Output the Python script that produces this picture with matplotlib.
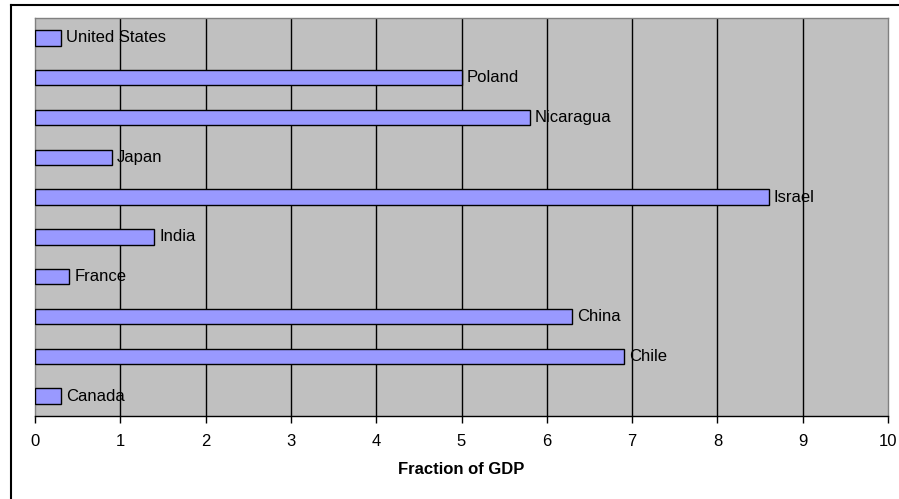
import matplotlib
matplotlib.use("Agg")
import matplotlib.pyplot as plt
from matplotlib.lines import Line2D

plt.rcParams['font.family'] = ['Liberation Sans', 'DejaVu Sans']

countries = ["Canada", "Chile", "China", "France", "India", "Israel", "Japan", "Nicaragua", "Poland", "United States"]
values = [0.3, 6.9, 6.3, 0.4, 1.4, 8.6, 0.9, 5.8, 5.0, 0.3]
xticks = [0, 1, 2, 3, 4, 5, 6, 7, 8, 9, 10]

W, H = 899, 499
fig = plt.figure(figsize=(W / 100, H / 100), dpi=100)
ax = fig.add_axes([35 / W, 1 - 416 / H, (888 - 35) / W, (416 - 18) / H])
ax.set_facecolor('#C0C0C0')

ypos = list(range(len(countries)))
ax.barh(ypos, values, height=0.39, color='#9999FF', edgecolor='black', linewidth=1, zorder=3)
for y, v, c in zip(ypos, values, countries):
    ax.text(v + 0.06, y, c, va='center', ha='left', fontsize=12, zorder=1.5)

ax.set_xlim(0, 10)
ax.set_ylim(-0.5, len(countries) - 0.5)
ax.set_xticks(xticks)
ax.set_xticklabels([str(t) for t in xticks], fontsize=12)
ax.set_yticks([])
for t in xticks[1:-1]:
    ax.axvline(t, color='black', linewidth=1, zorder=2)
ax.tick_params(axis='x', direction='out', length=5, width=1, color='black', pad=8)
for s in ['top', 'right', 'left']:
    ax.spines[s].set_color('#808080')
    ax.spines[s].set_linewidth(1)
ax.spines['bottom'].set_color('black')
ax.spines['bottom'].set_linewidth(1)
ax.set_xlabel('Fraction of GDP', fontsize=12, fontweight='bold', labelpad=9)

# outer frame (top and left edges visible)
fig.add_artist(Line2D([10.5 / W, 10.5 / W], [0, 1 - 5 / H], transform=fig.transFigure, color='black', linewidth=1.5))
fig.add_artist(Line2D([10.5 / W, 1], [1 - 5 / H, 1 - 5 / H], transform=fig.transFigure, color='black', linewidth=1.5))

fig.savefig('out.png', dpi=100)
